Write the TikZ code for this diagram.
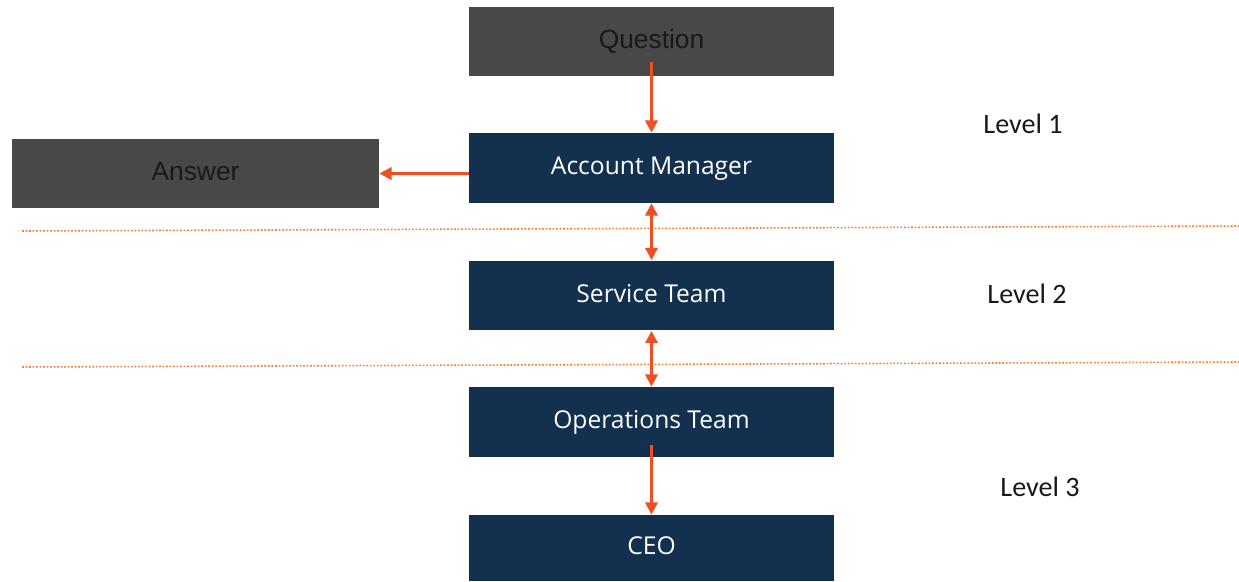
\documentclass[tikz,border=0pt]{standalone}
\usepackage{fontspec}
\setmainfont{Open Sans}
\newfontfamily\levelfont{Carlito}
\newfontfamily\greyfont{Liberation Sans}
\usetikzlibrary{arrows.meta}
\definecolor{navy}{RGB}{19,49,79}
\definecolor{slate}{RGB}{72,72,72}
\definecolor{arrowred}{RGB}{240,78,35}
\definecolor{sepline}{RGB}{240,130,60}
\begin{document}
\begin{tikzpicture}[x=0.02cm,y=-0.02cm,
		navybox/.style={rectangle,fill=navy,text=white,inner sep=0pt,text depth=0.1cm,
			minimum width=7.3cm,minimum height=1.4cm,font=\fontsize{14}{16}\selectfont},
		greybox/.style={rectangle,fill=slate,text=black!90,inner sep=0pt,text depth=0.1cm,
			minimum width=7.3cm,minimum height=1.38cm,font=\greyfont\fontsize{15}{17}\selectfont},
		lnk/.style={draw=arrowred,line width=1.6pt,-{Triangle[length=7pt,width=7pt]}},
		lnkboth/.style={lnk,{Triangle[length=7pt,width=7pt]}-{Triangle[length=7pt,width=7pt]}},
		levellabel/.style={font=\levelfont\fontsize{16}{18}\selectfont,text=black!90},
		sep/.style={draw=sepline,line width=0.9pt,dash pattern=on 1pt off 1pt}]
		\useasboundingbox (0,0) rectangle (1239,581);
		% boxes
		\node[greybox] (question) at (651.5,41.5) {Question};
		\node[navybox] (account) at (651.5,168) {Account Manager};
		\node[greybox,minimum width=7.34cm] (answer) at (195.5,173.5) {Answer};
		\node[navybox] (service) at (651.5,295.5) {Service Team};
		\node[navybox] (operations) at (651.5,422) {Operations Team};
		\node[navybox,minimum height=1.32cm] (ceo) at (651.5,548) {CEO};
		% levels
		\node[levellabel] (level1) at (1023,124) {Level 1};
		\node[levellabel] (level2) at (1027,294) {Level 2};
		\node[levellabel] (level3) at (1040,487) {Level 3};
		% separators
		\coordinate (sepa-l) at (22,231);
		\coordinate (sepa-r) at (1239,226);
		\coordinate (sepb-l) at (22,367);
		\coordinate (sepb-r) at (1239,362);
		\draw[sep] (sepa-l) -- (sepa-r);
		\draw[sep] (sepb-l) -- (sepb-r);
		% arrows
		\draw[lnk] ([yshift=0.28cm]question.south) -- (account.north);
		\draw[lnk] (account.west |- answer.east) -- (answer.east);
		\draw[lnkboth] (account.south) -- (service.north);
		\draw[lnkboth] (service.south) -- (operations.north);
		\draw[lnk] ([yshift=0.24cm]operations.south) -- (ceo.north);
	\end{tikzpicture}
\end{document}
